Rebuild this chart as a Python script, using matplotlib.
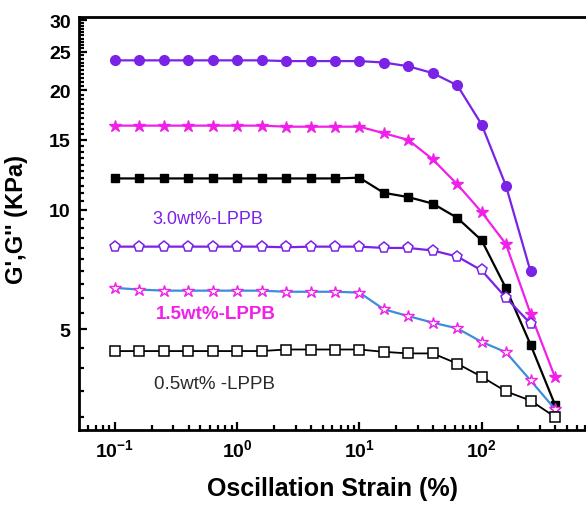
import numpy as np
import matplotlib
matplotlib.use("Agg")
import matplotlib.pyplot as plt
from matplotlib.ticker import FixedLocator, FixedFormatter, LogLocator, MultipleLocator, NullFormatter

plt.rcParams['font.family'] = 'Liberation Sans'
plt.rcParams['font.weight'] = 'bold'
plt.rcParams['mathtext.fontset'] = 'custom'
plt.rcParams['mathtext.rm'] = 'Liberation Sans:bold'
plt.rcParams['mathtext.bf'] = 'Liberation Sans:bold'

# strain sweep, 5 points per decade
strain = [0.1, 0.158, 0.251, 0.398, 0.631, 1.0, 1.58, 2.51, 3.98, 6.31,
          10.0, 15.8, 25.1, 39.8, 63.1, 100.0, 158.0, 251.0, 398.0]

g3_storage = [23.8, 23.8, 23.8, 23.8, 23.8, 23.8, 23.8, 23.7, 23.7, 23.7,
              23.7, 23.5, 23.0, 22.1, 20.6, 16.4, 11.5, 7.0]
g3_loss = [8.08, 8.08, 8.08, 8.08, 8.08, 8.08, 8.08, 8.05, 8.08, 8.08,
           8.08, 8.02, 8.02, 7.9, 7.63, 7.04, 6.01, 5.17]
g15_storage = [16.3, 16.3, 16.3, 16.3, 16.3, 16.3, 16.3, 16.2, 16.2, 16.2,
               16.2, 15.6, 15.0, 13.4, 11.6, 9.87, 8.2, 5.48, 3.79]
g15_loss = [6.36, 6.3, 6.26, 6.26, 6.26, 6.26, 6.26, 6.22, 6.22, 6.22,
            6.19, 5.62, 5.40, 5.20, 5.03, 4.65, 4.38, 3.72, 3.15]
g05_storage = [12.0, 12.0, 12.0, 12.0, 12.0, 12.0, 12.0, 12.0, 12.0, 12.0,
               12.05, 11.04, 10.77, 10.37, 9.55, 8.38, 6.35, 4.58, 3.23]
g05_loss = [4.41, 4.41, 4.41, 4.41, 4.41, 4.41, 4.41, 4.45, 4.45, 4.45,
            4.45, 4.39, 4.35, 4.35, 4.10, 3.80, 3.49, 3.31, 3.01]

purple = '#7A22E6'
magenta = '#F020E8'
blue = '#3C8EDC'

fig = plt.figure(figsize=(5.86, 5.06), dpi=100)
ax = fig.add_axes([0.1348, 0.1482, 0.8652, 0.8162])

ax.plot(strain[:len(g3_storage)], g3_storage, '-o', color=purple, lw=1.6, ms=7, mfc=purple, mec=purple)
ax.plot(strain[:len(g15_storage)], g15_storage, '-*', color=magenta, lw=1.6, ms=9, mfc=magenta, mec=magenta)
ax.plot(strain[:len(g05_storage)], g05_storage, '-s', color='black', lw=1.6, ms=6, mfc='black', mec='black')
ax.plot(strain[:len(g3_loss)], g3_loss, '-p', color=purple, lw=1.6, ms=8, mfc='white', mec=purple, mew=1.1)
ax.plot(strain[:len(g15_loss)], g15_loss, '-*', color=blue, lw=1.6, ms=9, mfc='white', mec=magenta, mew=1.0)
ax.plot(strain[:len(g05_loss)], g05_loss, '-s', color='black', lw=1.3, ms=6.5, mfc='white', mec='black', mew=1.1)

ax.set_xscale('log')
ax.set_yscale('log')
ax.set_xlim(0.0507, 714)
ax.set_ylim(2.79, 30.6)

ax.yaxis.set_major_locator(FixedLocator([5, 10, 15, 20, 25, 30]))
ax.yaxis.set_major_formatter(FixedFormatter(['5', '10', '15', '20', '25', '30']))
ax.yaxis.set_minor_locator(MultipleLocator(0.5))
ax.yaxis.set_minor_formatter(NullFormatter())

ax.xaxis.set_major_locator(FixedLocator([0.1, 1, 10, 100]))
ax.xaxis.set_major_formatter(FixedFormatter([r'$10^{-1}$', r'$10^{0}$', r'$10^{1}$', r'$10^{2}$']))
ax.xaxis.set_minor_locator(LogLocator(base=10, subs=np.arange(2, 10), numticks=20))
ax.xaxis.set_minor_formatter(NullFormatter())

ax.tick_params(which='both', direction='in', top=False, right=False, width=1.6, labelsize=14)
ax.tick_params(which='major', length=6, pad=6)
ax.tick_params(which='minor', length=3.5)

for side in ['left', 'bottom', 'top']:
    ax.spines[side].set_linewidth(2.0)
ax.spines['right'].set_visible(False)

ax.set_xlabel('Oscillation Strain (%)', fontsize=18, fontweight='bold', labelpad=11)
ax.set_ylabel("G',G'' (KPa)", fontsize=17, fontweight='bold')
ax.yaxis.set_label_coords(-0.1, 0.511)

ax.text(0.577, 9.49, '3.0wt%-LPPB', color=purple, fontsize=13, fontweight='normal', ha='center', va='center')
ax.text(0.671, 5.47, '1.5wt%-LPPB', color=magenta, fontsize=13.5, fontweight='bold', ha='center', va='center')
ax.text(0.646, 3.65, '0.5wt% -LPPB', color='#2a2a2a', fontsize=13.5, fontweight='normal', ha='center', va='center')

fig.savefig('out.png', dpi=100)
